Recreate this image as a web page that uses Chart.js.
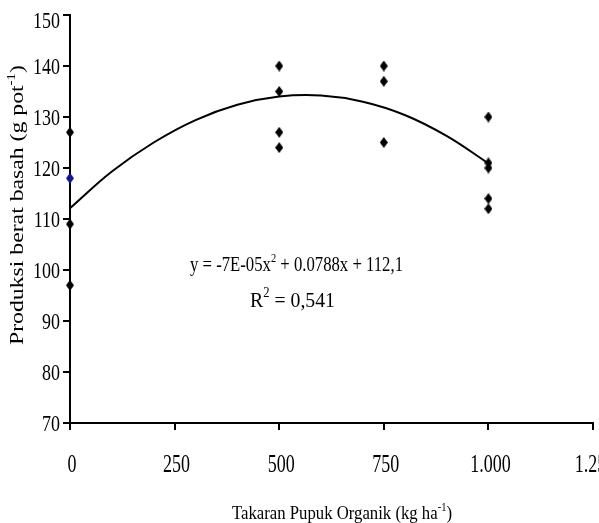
<!DOCTYPE html>
<html><head><meta charset="utf-8">
<script src="https://cdn.jsdelivr.net/npm/chart.js@4"></script>
<style>
html,body{margin:0;padding:0;overflow:hidden;background:#fff;width:599px;height:523px}
</style></head>
<body><canvas id="c" width="599" height="523"></canvas>
<script>
// ---- data ----
const obsDose  = [0, 0, 0, 500, 500, 500, 500, 750, 750, 750, 1000, 1000, 1000, 1000, 1000];
const obsYield = [127, 109, 97, 140, 135, 127, 124, 140, 137, 125, 130, 121, 120, 114, 112];
const blueDose  = [0];
const blueYield = [118];
const trendDose  = [0, 100, 200, 300, 400, 500, 600, 700, 800, 900, 1000];
const trendYield = [112.1, 119.3, 125.0, 129.4, 132.4, 134.0, 134.2, 133.0, 130.4, 126.3, 120.9];
const xTickLabels = ['0', '250', '500', '750', '1.000', '1.250'];
const yTickLabels = ['70', '80', '90', '100', '110', '120', '130', '140', '150'];
const xTitle = [['Takaran Pupuk Organik (kg ha'], ['-1', true], [')']];
const yTitle = [['Produksi berat basah (g pot'], ['-1', true], [')']];
const eqLine1 = [['y = -7E-05x'], ['2', true], [' + 0.0788x + 112,1']];
const eqLine2 = [['R'], ['2', true], [' = 0,541']];

function diamond(color){
  const c = document.createElement('canvas'); c.width = 8; c.height = 11;
  const g = c.getContext('2d'); g.fillStyle = color;
  g.beginPath(); g.moveTo(4,0); g.lineTo(8,5.5); g.lineTo(4,11); g.lineTo(0,5.5); g.closePath(); g.fill();
  return c;
}
const zip = (xs, ys) => xs.map((x, i) => ({x, y: ys[i]}));

const FONT = '"Liberation Serif", "Times New Roman", serif';
function richText(ctx, segs, size, cx, baseY, targetW, rot){
  ctx.save();
  const parts = segs.map(([t, sup]) => {
    const fs = sup ? Math.round(size*0.62) : size;
    ctx.font = fs + 'px ' + FONT;
    return {t, sup, fs, w: ctx.measureText(t).width};
  });
  const total = parts.reduce((a,p)=>a+p.w,0);
  const sx = targetW ? targetW/total : 1;
  ctx.translate(cx, baseY);
  if (rot) ctx.rotate(rot);
  ctx.scale(sx, 1);
  let x = -total/2;
  ctx.fillStyle = '#000'; ctx.textBaseline = 'alphabetic'; ctx.textAlign = 'left';
  for (const p of parts){
    ctx.font = p.fs + 'px ' + FONT;
    ctx.fillText(p.t, x, p.sup ? -size*0.42 : 0);
    x += p.w;
  }
  ctx.restore();
}

const TICK = 7;
const axisPlugin = {
  id: 'axisMarks',
  afterDraw(chart){
    const ctx = chart.ctx, xs = chart.scales.x, ys = chart.scales.y, a = chart.chartArea;
    ctx.save(); ctx.strokeStyle = '#000'; ctx.lineWidth = 2; ctx.lineCap = 'butt';
    ctx.beginPath();
    xs.ticks.forEach(t => { const px = Math.round(xs.getPixelForValue(t.value)); ctx.moveTo(px, a.bottom); ctx.lineTo(px, a.bottom + TICK); });
    ys.ticks.forEach(t => { const py = Math.round(ys.getPixelForValue(t.value)); ctx.moveTo(a.left - TICK, py); ctx.lineTo(a.left, py); });
    ctx.stroke();
    // tick labels (source image is stretched vertically)
    ctx.fillStyle = '#000'; ctx.font = '18px ' + FONT; ctx.textBaseline = 'alphabetic';
    ctx.textAlign = 'center';
    xs.ticks.forEach((t, i) => {
      const px = xs.getPixelForValue(t.value) + 2;
      ctx.save(); ctx.translate(px, a.bottom + 49); ctx.scale(1, 1.36);
      ctx.fillText(xTickLabels[i] ?? t.label, 0, 0); ctx.restore();
    });
    ctx.textAlign = 'right';
    ys.ticks.forEach((t, i) => {
      const py = ys.getPixelForValue(t.value);
      const base = Math.max(py + 7.5, 28);
      ctx.save(); ctx.translate(a.left - 10, base); ctx.scale(1, 1.24);
      ctx.fillText(yTickLabels[i] ?? t.label, 0, 0); ctx.restore();
    });
    ctx.restore();
  }
};

const textPlugin = {
  id: 'texts',
  afterDraw(chart){
    const ctx = chart.ctx;
    richText(ctx, yTitle, 19, 22.5, 205, 280, -Math.PI/2);
    richText(ctx, xTitle, 19, 342, 518.5, 220, 0);
    richText(ctx, eqLine1, 21, 296.5, 271, 213, 0);
    richText(ctx, eqLine2, 22, 292.5, 306.5, 85, 0);
  }
};

new Chart(document.getElementById('c'), {
  type: 'scatter',
  data: {
    datasets: [
      { data: zip(trendDose, trendYield), showLine: true, pointRadius: 0, borderColor: '#000', borderWidth: 2, tension: 0.4, fill: false, clip: false },
      { data: zip(obsDose, obsYield), pointStyle: diamond('#000'), pointRadius: 5, clip: false },
      { data: zip(blueDose, blueYield), pointStyle: diamond('#14148c'), pointRadius: 5, clip: false }
    ]
  },
  options: {
    responsive: false, animation: false, devicePixelRatio: 1,
    layout: { padding: { top: 15, right: 6, left: 0, bottom: 0 } },
    plugins: { legend: { display: false }, tooltip: { enabled: false } },
    scales: {
      x: {
        type: 'linear', min: 0, max: 1250,
        ticks: { display: false, stepSize: 250, autoSkip: false, maxRotation: 0, callback: (v, i) => xTickLabels[i] },
        grid: { display: false },
        border: { display: true, color: '#000', width: 2 },
        afterFit: s => { s.height = 100; s.paddingLeft = 0; s.paddingRight = 0; }
      },
      y: {
        type: 'linear', min: 70, max: 150,
        ticks: { display: false, stepSize: 10, callback: (v, i) => yTickLabels[i] },
        grid: { display: false },
        border: { display: true, color: '#000', width: 2 },
        afterFit: s => { s.width = 70; s.paddingTop = 0; s.paddingBottom = 0; }
      }
    }
  },
  plugins: [axisPlugin, textPlugin]
});
</script>
</body></html>
